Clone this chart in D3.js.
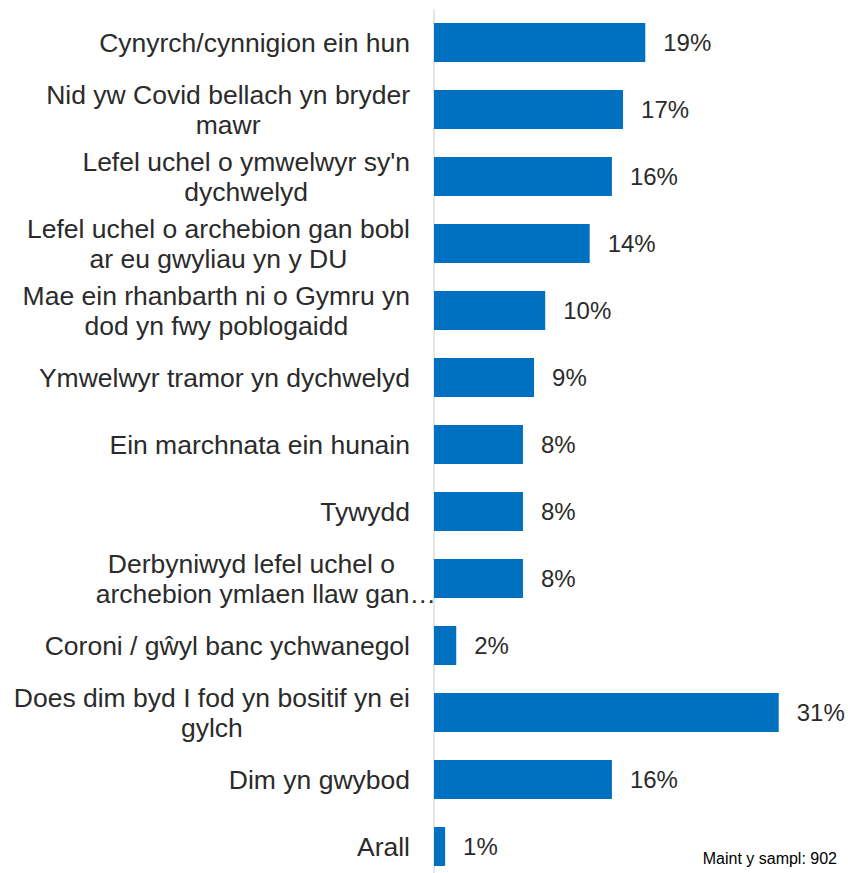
<!DOCTYPE html>
<html>
<head>
<meta charset="utf-8">
<script src="https://cdn.jsdelivr.net/npm/d3@7"></script>
<style>
  html, body { margin: 0; padding: 0; background: #ffffff; }
  svg { display: block; }
</style>
</head>
<body>
<svg id="chart" width="848" height="873"></svg>
<script>
const categories = [
  "Cynyrch/cynnigion ein hun",
  "Nid yw Covid bellach yn bryder\nmawr",
  "Lefel uchel o ymwelwyr sy'n\ndychwelyd",
  "Lefel uchel o archebion gan bobl\nar eu gwyliau yn y DU",
  "Mae ein rhanbarth ni o Gymru yn\ndod yn fwy poblogaidd",
  "Ymwelwyr tramor yn dychwelyd",
  "Ein marchnata ein hunain",
  "Tywydd",
  "Derbyniwyd lefel uchel o\narchebion ymlaen llaw gan\u2026",
  "Coroni / gŵyl banc ychwanegol",
  "Does dim byd I fod yn bositif yn ei\ngylch",
  "Dim yn gwybod",
  "Arall"
];
const values = [19, 17, 16, 14, 10, 9, 8, 8, 8, 2, 31, 16, 1];
const sampleNote = "Maint y sampl: 902";

const svg = d3.select("#chart");
const x0 = 434;
const FONT = "'Liberation Sans', Arial, sans-serif";

const y = d3.scaleBand()
  .domain(categories)
  .range([9, 880])
  .paddingInner(0.418)
  .paddingOuter(0.209);

const x = d3.scaleLinear()
  .domain([0, 35])
  .range([x0, x0 + 35 * 11.12]);

// axis line
const axis = d3.axisLeft(y).tickSize(0).tickSizeOuter(0).tickFormat("");
const gAxis = svg.append("g").attr("transform", `translate(${x0 - 0.5},0)`).call(axis);
gAxis.select(".domain").attr("stroke", "#d9d9d9").attr("stroke-width", 1.3);

// bars
svg.append("g").selectAll("rect")
  .data(categories)
  .join("rect")
  .attr("x", x(0))
  .attr("y", d => y(d))
  .attr("width", (d, i) => x(values[i]) - x(0))
  .attr("height", y.bandwidth())
  .attr("fill", "#0070c0");

// value labels
svg.append("g").selectAll("text")
  .data(categories)
  .join("text")
  .attr("x", (d, i) => x(values[i]) + 18)
  .attr("y", d => y(d) + y.bandwidth() / 2)
  .attr("dy", "0.36em")
  .attr("font-family", FONT)
  .attr("font-size", 24)
  .attr("fill", "#2b2b2b")
  .text((d, i) => values[i] + "%");

// category labels
const lh = 30;
const right = 410;
const labels = svg.append("g").selectAll("text")
  .data(categories)
  .join("text")
  .attr("font-family", FONT)
  .attr("font-size", 26.5)
  .attr("fill", "#2b2b2b")
  .attr("text-anchor", "middle");

labels.each(function(d) {
  const lines = d.split("\n");
  const t = d3.select(this);
  const cy = y(d) + y.bandwidth() / 2;
  const n = lines.length;
  const spans = lines.map((ln, k) =>
    t.append("tspan")
      .attr("y", cy + (k - (n - 1) / 2) * lh)
      .attr("dy", "0.36em")
      .text(ln));
  const widths = spans.map(ts => ts.node().getComputedTextLength());
  const truncated = d.endsWith("\u2026");
  const maxW = d3.max(widths);
  spans.forEach((ts, k) => {
    if (truncated) {
      if (k === n - 1) ts.attr("text-anchor", "end").attr("x", right + 26);
      else ts.attr("text-anchor", "end").attr("x", right - 15);
    } else {
      ts.attr("x", right - maxW / 2);
    }
  });
});

// sample note
svg.append("text")
  .attr("x", 837)
  .attr("y", 864)
  .attr("text-anchor", "end")
  .attr("font-family", FONT)
  .attr("font-size", 16)
  .attr("fill", "#000000")
  .text(sampleNote);
</script>
</body>
</html>
